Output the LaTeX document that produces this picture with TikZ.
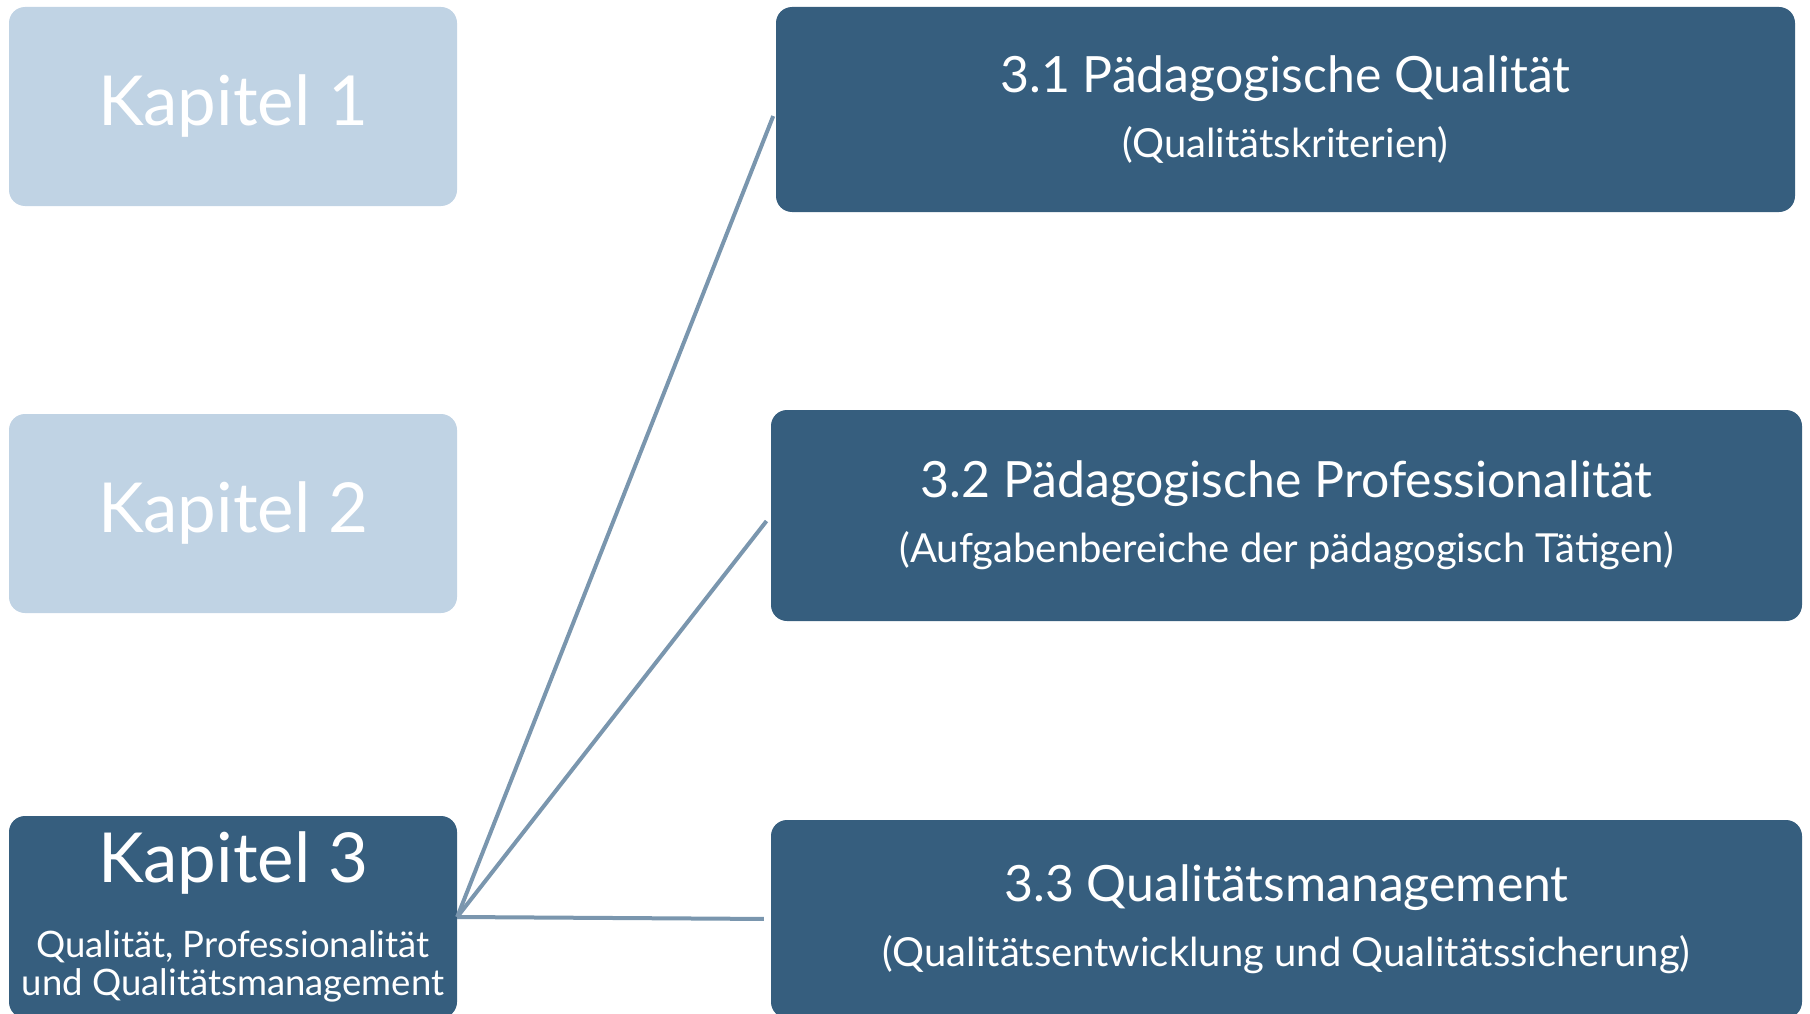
\documentclass[tikz,border=0pt]{standalone}
\usepackage{fontspec}
\setmainfont{Lato}
\definecolor{kapdark}{HTML}{365E7E}
\definecolor{kaplight}{HTML}{C0D3E4}
\definecolor{linkblue}{HTML}{7A96AE}
\begin{document}
\begin{tikzpicture}[x=1pt, y=-1pt,
        every node/.style = {align=center, text=white, inner sep=0pt},
        box/.style = {rounded corners=16pt, minimum width=#1},
        kapbox/.style = {box=448pt, minimum height=199pt, font=\fontsize{69}{80}\selectfont},
        secbox/.style = {box=#1, fill=kapdark, font=\fontsize{40}{65}\selectfont},
        link/.style = {draw=linkblue, line width=4pt, shorten >=7pt}]
    \useasboundingbox (0,0) rectangle (1810,1014);
    % Kapitel
    \node[kapbox, fill=kaplight] (kap1) at (233,106.5) {Kapitel 1};
    \node[kapbox, fill=kaplight] (kap2) at (233,513.5) {Kapitel 2};
    \node[kapbox, fill=kapdark, minimum height=202pt,
          font=\fontsize{36.5}{38}\selectfont] (kap3) at (233,917)
        {{\fontsize{69}{38}\selectfont Kapitel 3}\\[36pt]
         Qualität, Professionalität\\und Qualitätsmanagement};
    % Unterkapitel
    \node[secbox=1019pt, minimum height=205pt] (sec31) at (1285.5,109.5)
        {{\fontsize{50}{65}\selectfont 3.1 Pädagogische Qualität}\\(Qualitätskriterien)};
    \node[secbox=1031pt, minimum height=211pt] (sec32) at (1286.5,515.5)
        {{\fontsize{50}{65}\selectfont 3.2 Pädagogische Professionalität}\\(Aufgabenbereiche der pädagogisch Tätigen)};
    \node[secbox=1031pt, minimum height=198pt] (sec33) at (1286.5,919)
        {{\fontsize{50}{65}\selectfont 3.3 Qualitätsmanagement}\\(Qualitätsentwicklung und Qualitätssicherung)};
    % Verbindungen
    \draw[link] (kap3.east) -- (sec31.west);
    \draw[link] (kap3.east) -- (sec32.west);
    \draw[link] (kap3.east) -- (sec33.west);
\end{tikzpicture}
\end{document}
